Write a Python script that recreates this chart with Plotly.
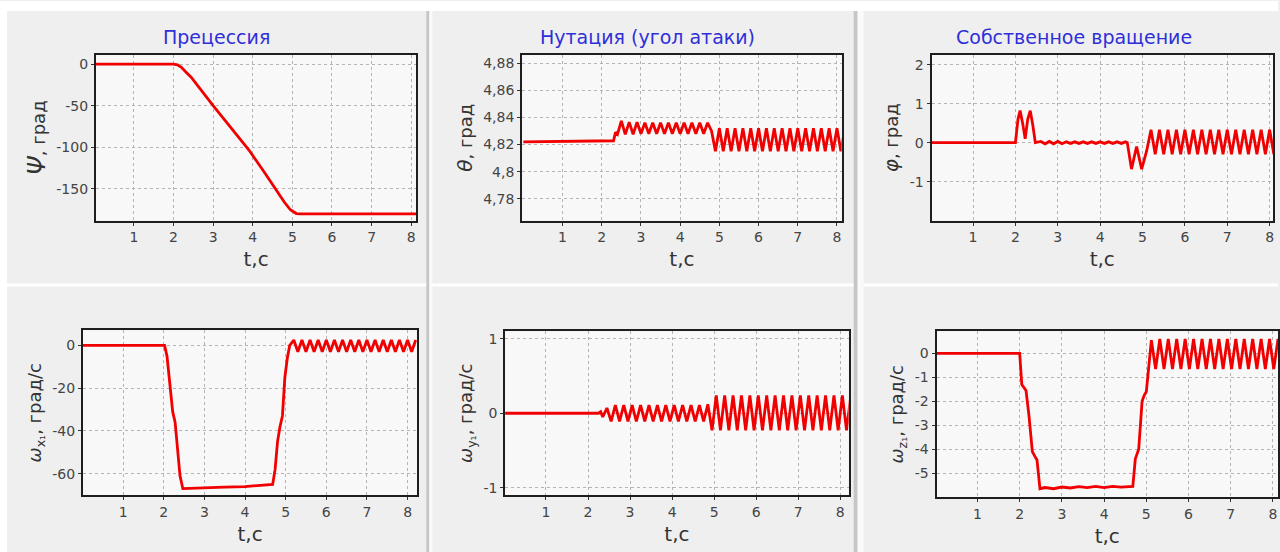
import plotly.graph_objects as go

# ---------------- data ----------------
x_ticks = [1, 2, 3, 4, 5, 6, 7, 8]
x_tick_labels = ["1", "2", "3", "4", "5", "6", "7", "8"]

# Precession psi, deg
psi_t = [0.0, 2.0, 2.1, 2.2, 2.3, 2.45, 3.0, 3.45, 3.9, 4.25, 4.6, 4.8, 4.95, 5.1, 5.2, 8.2]
psi_v = [0, 0, -1, -4, -9, -16, -50, -76, -103, -127, -152, -166, -175, -179.5, -180, -180]
psi_ticks = [0, -50, -100, -150]
psi_tick_labels = ["0", "-50", "-100", "-150"]

# Nutation theta, deg
theta_t = [0.0, 1.0, 2.0, 2.3, 2.35, 2.4, 2.5, 2.6, 2.7, 2.8, 2.9, 3.0, 3.1, 3.2, 3.3, 3.4,
           3.5, 3.6, 3.7, 3.8, 3.9, 4.0, 4.1, 4.2, 4.3, 4.4, 4.5, 4.6, 4.7, 4.8,
           4.9, 5.0, 5.1, 5.2, 5.3, 5.4, 5.5, 5.6, 5.7, 5.8, 5.9, 6.0, 6.1, 6.2, 6.3, 6.4,
           6.5, 6.6, 6.7, 6.8, 6.9, 7.0, 7.1, 7.2, 7.3, 7.4, 7.5, 7.6, 7.7, 7.8, 7.9, 8.0,
           8.1, 8.2]
theta_v = [4.822, 4.8222, 4.8225, 4.8228, 4.829, 4.8275, 4.8375, 4.8275, 4.8365, 4.8275,
           4.8365, 4.828, 4.836, 4.828, 4.836, 4.828, 4.836, 4.828, 4.836, 4.828, 4.836,
           4.828, 4.836, 4.828, 4.836, 4.828, 4.836, 4.828, 4.836, 4.830,
           4.815, 4.832, 4.815, 4.832, 4.815, 4.832, 4.815, 4.832, 4.815, 4.832, 4.815,
           4.832, 4.815, 4.832, 4.815, 4.832, 4.815, 4.832, 4.815, 4.832, 4.815, 4.832,
           4.815, 4.832, 4.815, 4.832, 4.815, 4.832, 4.815, 4.832, 4.815, 4.832, 4.815,
           4.832]
theta_ticks = [4.78, 4.80, 4.82, 4.84, 4.86, 4.88]
theta_tick_labels = ["4,78", "4,8", "4,82", "4,84", "4,86", "4,88"]

# Proper rotation phi, deg
phi_t = [0.0, 2.0, 2.06, 2.11, 2.17, 2.23, 2.29, 2.35, 2.41, 2.47,
         2.6, 2.7, 2.8, 2.9, 3.0, 3.1, 3.2, 3.3, 3.4, 3.5, 3.6, 3.7, 3.8, 3.9, 4.0,
         4.1, 4.2, 4.3, 4.4, 4.5, 4.6, 4.64, 4.74, 4.86, 4.98, 5.1,
         5.2, 5.3, 5.4, 5.5, 5.6, 5.7, 5.8, 5.9, 6.0, 6.1, 6.2, 6.3, 6.4, 6.5, 6.6,
         6.7, 6.8, 6.9, 7.0, 7.1, 7.2, 7.3, 7.4, 7.5, 7.6, 7.7, 7.8, 7.9, 8.0, 8.1]
phi_v = [0, 0, 0.6, 0.82, 0.5, 0.1, 0.6, 0.82, 0.45, 0.0,
         0.03, -0.03, 0.03, -0.03, 0.03, -0.03, 0.02, -0.02, 0.02, -0.02, 0.02, -0.02,
         0.02, -0.02, 0.02, -0.02, 0.02, -0.02, 0.02, -0.02, 0.02, 0.0, -0.68, -0.1,
         -0.68, -0.2,
         0.33, -0.3, 0.33, -0.3, 0.33, -0.3, 0.33, -0.3, 0.33, -0.3, 0.33, -0.3, 0.33,
         -0.3, 0.33, -0.3, 0.33, -0.3, 0.33, -0.3, 0.33, -0.3, 0.33, -0.3, 0.33, -0.3,
         0.33, -0.3, 0.33, -0.3]
phi_ticks = [-1, 0, 1, 2]
phi_tick_labels = ["-1", "0", "1", "2"]

# Angular rate wx1, deg/s
wx_t = [0.0, 2.02, 2.08, 2.15, 2.22, 2.28, 2.33, 2.4, 2.47, 3.0, 3.5, 4.0, 4.5, 4.68,
        4.74, 4.8, 4.86, 4.92, 4.98, 5.04, 5.1,
        5.2, 5.3, 5.4, 5.5, 5.6, 5.7, 5.8, 5.9, 6.0, 6.1, 6.2, 6.3, 6.4, 6.5, 6.6, 6.7,
        6.8, 6.9, 7.0, 7.1, 7.2, 7.3, 7.4, 7.5, 7.6, 7.7, 7.8, 7.9, 8.0, 8.1, 8.2]
wx_v = [0, 0, -5, -18, -31, -36, -47, -61, -67, -66.8, -66.3, -66, -65.5, -65,
        -58, -45, -38, -33, -15, -6, 0,
        2.5, -3, 2.5, -3, 2.5, -3, 2.5, -3, 2.5, -3, 2.5, -3, 2.5, -3, 2.5, -3,
        2.5, -3, 2.5, -3, 2.5, -3, 2.5, -3, 2.5, -3, 2.5, -3, 2.5, -3, 2.5]
wx_ticks = [0, -20, -40, -60]
wx_tick_labels = ["0", "-20", "-40", "-60"]

# Angular rate wy1, deg/s
wy_t = [0.0, 2.25, 2.3, 2.35, 2.45, 2.55, 2.65, 2.75, 2.85, 2.95, 3.05, 3.15, 3.25, 3.35,
        3.45, 3.55, 3.65, 3.75, 3.85, 3.95, 4.05, 4.15, 4.25, 4.35, 4.45, 4.55, 4.65,
        4.75, 4.85,
        4.95, 5.05, 5.15, 5.25, 5.35, 5.45, 5.55, 5.65, 5.75, 5.85, 5.95, 6.05, 6.15,
        6.25, 6.35, 6.45, 6.55, 6.65, 6.75, 6.85, 6.95, 7.05, 7.15, 7.25, 7.35, 7.45,
        7.55, 7.65, 7.75, 7.85, 7.95, 8.05, 8.15, 8.25]
wy_v = [0, 0, 0.02, -0.05, 0.07, -0.11, 0.11, -0.11, 0.11, -0.11, 0.11, -0.11, 0.11,
        -0.11, 0.11, -0.11, 0.11, -0.11, 0.11, -0.11, 0.11, -0.11, 0.11, -0.11, 0.11,
        -0.11, 0.11, -0.11, 0.12,
        -0.23, 0.24, -0.23, 0.24, -0.23, 0.24, -0.23, 0.24, -0.23, 0.24, -0.23, 0.24,
        -0.23, 0.24, -0.23, 0.24, -0.23, 0.24, -0.23, 0.24, -0.23, 0.24, -0.23, 0.24,
        -0.23, 0.24, -0.23, 0.24, -0.23, 0.24, -0.23, 0.24, -0.23, 0.24]
wy_ticks = [-1, 0, 1]
wy_tick_labels = ["-1", "0", "1"]

# Angular rate wz1, deg/s
wz_t = [0.0, 2.0, 2.05, 2.09, 2.15, 2.22, 2.3, 2.36, 2.41, 2.48, 2.6, 2.8, 3.0, 3.2,
        3.4, 3.6, 3.8, 4.0, 4.2, 4.4, 4.6, 4.68, 4.74, 4.78, 4.82, 4.9, 4.95, 5.0, 5.06,
        5.12, 5.22, 5.32, 5.42, 5.52, 5.62, 5.72, 5.82, 5.92, 6.02, 6.12, 6.22, 6.32,
        6.42, 6.52, 6.62, 6.72, 6.82, 6.92, 7.02, 7.12, 7.22, 7.32, 7.42, 7.52, 7.62,
        7.72, 7.82, 7.92, 8.02, 8.12, 8.22]
wz_v = [0, 0, -1.3, -1.4, -1.55, -2.6, -4.1, -4.3, -4.45, -5.65, -5.6, -5.65, -5.58,
        -5.62, -5.56, -5.6, -5.55, -5.6, -5.55, -5.58, -5.55, -5.55, -4.4, -4.2, -4.0,
        -2.0, -1.75, -1.6, -0.5,
        0.55, -0.65, 0.6, -0.65, 0.6, -0.65, 0.6, -0.65, 0.6, -0.65, 0.6, -0.65, 0.6,
        -0.65, 0.6, -0.65, 0.6, -0.65, 0.6, -0.65, 0.6, -0.65, 0.6, -0.65, 0.6, -0.65,
        0.6, -0.65, 0.6, -0.65, 0.6, -0.65]
wz_ticks = [0, -1, -2, -3, -4, -5]
wz_tick_labels = ["0", "-1", "-2", "-3", "-4", "-5"]

titles = ["Прецессия", "Нутация (угол атаки)", "Собственное вращение"]
y_titles = ["<span style='font-size:24px'><i>Ψ</i></span>, град",
            "<span style='font-size:20px'><i>θ</i></span>, град",
            "<span style='font-size:20px'><i>φ</i></span>, град",
            "<i>ω</i><sub>x₁</sub>, град/с", "<i>ω</i><sub>y₁</sub>, град/с",
            "<i>ω</i><sub>z₁</sub>, град/с"]
x_title = "t,с"

# ---------------- layout helpers ----------------
W, H = 1280, 552
FONT = "DejaVu Sans, Verdana, sans-serif"


def fx(p):
    return p / W


def fy(p):
    return 1 - p / H


# plot frames in pixels: (left, top, right, bottom), x range, y range
panels = [
    dict(box=(96, 54, 417, 220), xr=[0.04, 8.13], yr=[-188, 11],
         t=psi_t, v=psi_v, yt=psi_ticks, yl=psi_tick_labels),
    dict(box=(523, 54, 843, 220), xr=[-0.03, 8.12], yr=[4.764, 4.886],
         t=theta_t, v=theta_v, yt=theta_ticks, yl=theta_tick_labels),
    dict(box=(933, 54, 1275, 220), xr=[0.02, 8.08], yr=[-2.0, 2.25],
         t=phi_t, v=phi_v, yt=phi_ticks, yl=phi_tick_labels),
    dict(box=(83, 330, 418, 495), xr=[0.01, 8.24], yr=[-70, 7],
         t=wx_t, v=wx_v, yt=wx_ticks, yl=wx_tick_labels),
    dict(box=(506, 331, 850, 495), xr=[0.03, 8.2], yr=[-1.1, 1.1],
         t=wy_t, v=wy_v, yt=wy_ticks, yl=wy_tick_labels),
    dict(box=(938, 331, 1280, 497), xr=[0.03, 8.12], yr=[-6.0, 0.92],
         t=wz_t, v=wz_v, yt=wz_ticks, yl=wz_tick_labels),
]

fig = go.Figure()
tick_font = dict(family=FONT, size=14, color="#444444")
title_font = dict(family=FONT, size=18, color="#333333")

layout = dict(
    width=W, height=H, margin=dict(l=0, r=0, t=0, b=0),
    paper_bgcolor="#efefef", plot_bgcolor="#f8f8f8",
    showlegend=False, hovermode=False, separators=", ",
    font=dict(family=FONT),
)

for i, p in enumerate(panels):
    n = i + 1
    sx = "" if n == 1 else str(n)
    l, t, r, b = p["box"]
    fig.add_trace(go.Scatter(x=p["t"], y=p["v"], mode="lines",
                             line=dict(color="#f00000", width=2.8),
                             xaxis="x" + sx, yaxis="y" + sx))
    common = dict(showline=True, mirror=True, linecolor="#1e1e1e", linewidth=2,
                  showgrid=True, gridcolor="#b4b4b4", griddash="dot", gridwidth=1,
                  zeroline=False, ticks="outside", ticklen=3, tickcolor="#333",
                  tickfont=tick_font, fixedrange=True)
    layout["xaxis" + sx] = dict(
        domain=[fx(l), fx(r)], range=p["xr"], anchor="y" + sx,
        tickmode="array", tickvals=x_ticks, ticktext=x_tick_labels,
        title=dict(text=x_title, font=dict(family=FONT, size=20, color="#333333"),
                   standoff=8), **common)
    layout["yaxis" + sx] = dict(
        domain=[fy(b), fy(t)], range=p["yr"], anchor="x" + sx,
        tickmode="array", tickvals=p["yt"], ticktext=p["yl"],
        title=dict(text=y_titles[i], font=title_font, standoff=6), **common)

# panel titles
title_pos = [(217, 36), (649, 36), (1076, 36)]
annotations = []
for txt, (x, y) in zip(titles, title_pos):
    annotations.append(dict(text=txt, x=fx(x), y=fy(y), xref="paper", yref="paper",
                            showarrow=False, xanchor="center", yanchor="middle",
                            font=dict(family=FONT, size=19, color="#2f2fd8")))
layout["annotations"] = annotations

# window separators
shapes = [
    dict(type="rect", xref="paper", yref="paper", x0=0, x1=1, y0=fy(10), y1=1,
         fillcolor="white", line=dict(width=0), layer="below"),
    dict(type="rect", xref="paper", yref="paper", x0=0, x1=fx(7), y0=0, y1=1,
         fillcolor="white", line=dict(width=0), layer="below"),
    dict(type="rect", xref="paper", yref="paper", x0=0, x1=1, y0=fy(286), y1=fy(283),
         fillcolor="white", line=dict(width=0), layer="below"),
    dict(type="rect", xref="paper", yref="paper", x0=fx(427), x1=fx(430), y0=0, y1=fy(10),
         fillcolor="#c6c6c6", line=dict(width=0), layer="below"),
    dict(type="rect", xref="paper", yref="paper", x0=fx(430), x1=fx(433), y0=0, y1=fy(10),
         fillcolor="#fafafa", line=dict(width=0), layer="below"),
    dict(type="rect", xref="paper", yref="paper", x0=fx(855), x1=fx(859), y0=0, y1=fy(10),
         fillcolor="#c6c6c6", line=dict(width=0), layer="below"),
    dict(type="rect", xref="paper", yref="paper", x0=fx(859), x1=fx(865), y0=0, y1=fy(10),
         fillcolor="#fafafa", line=dict(width=0), layer="below"),
]
layout["shapes"] = shapes

fig.update_layout(**layout)
fig.write_html("out.html", config={"displayModeBar": False})
